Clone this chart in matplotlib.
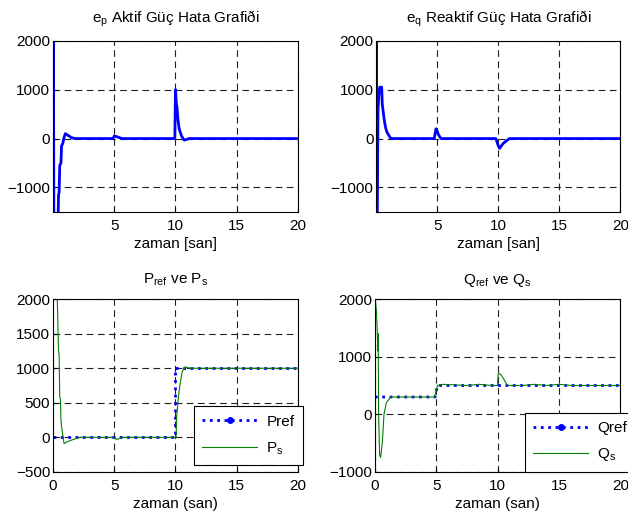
import matplotlib
matplotlib.use('Agg')
from matplotlib import pyplot as plt
from matplotlib.lines import Line2D

plt.rcParams['font.family'] = ['Liberation Sans', 'DejaVu Sans']
plt.rcParams['mathtext.default'] = 'regular'
plt.rcParams['font.size'] = 11

# e_p aktif guc hatasi
t_ep = [0, 0.03, 0.08, 0.40, 0.42, 0.45, 0.50, 0.55, 0.65, 0.70, 0.80, 0.88, 1.0, 1.2, 1.5, 1.8,
        4.9, 5.0, 5.2, 5.5, 5.7, 9.95, 10.0, 10.08, 10.12, 10.2, 10.3, 10.5, 10.7, 10.9, 11.1, 20]
ep = [0, 3000, -3000, -3000, -1600, -1150, -1100, -550, -500, -150, -100, 0, 100, 70, 20, 0,
      0, 50, 40, 10, 0, 0, 1000, 700, 650, 400, 200, 50, -30, -20, 0, 0]

# e_q reaktif guc hatasi
t_eq = [0, 0.02, 0.05, 0.10, 0.15, 0.25, 0.30, 0.45, 0.50, 0.55, 0.65, 0.75, 0.85, 0.95, 1.2,
        4.75, 4.9, 5.0, 5.1, 5.3, 9.8, 10.0, 10.1, 10.4, 10.9, 20]
eq = [0, 3000, -2500, -1100, 600, 1000, 1050, 1050, 700, 600, 400, 250, 150, 100, 0,
      0, 200, 150, 80, 0, 0, -150, -200, -100, 0, 0]

# P_ref ve P_s
t_pref = [0, 10, 10, 20]
pref = [0, 0, 1000, 1000]
t_ps = [0, 0.02, 0.35, 0.45, 0.50, 0.55, 0.60, 0.65, 0.70, 0.90, 1.1, 1.5, 2.2,
        4.9, 5.2, 5.7, 10.05, 10.1, 10.25, 10.4, 10.55, 10.8, 11.2, 20]
ps = [-500, 2500, 2000, 1250, 1200, 600, 550, 250, 150, -90, -70, -40, 0,
      0, -30, 0, 0, 300, 600, 800, 950, 1020, 1000, 1000]

# Q_ref ve Q_s
t_qref = [0, 4.9, 5.1, 20]
qref = [300, 300, 500, 500]
t_qs = [0, 0.03, 0.12, 0.2, 0.24, 0.27, 0.30, 0.38, 0.46, 0.6, 0.74, 0.93, 1.28,
        4.85, 5.1, 5.5, 6.5, 7.5, 8.5, 9.5, 9.98, 10.05, 10.3, 10.8, 12, 13, 14, 15, 16, 20]
qs = [-1000, 2000, 1800, 1400, 1100, 1400, 0, -700, -750, -500, 0, 200, 300,
      300, 500, 520, 510, 500, 520, 500, 500, 720, 680, 500, 500, 520, 500, 520, 500, 500]

fig = plt.figure(figsize=(6.28, 5.22), dpi=100)
ax1 = fig.add_axes([0.0844, 0.594, 0.390, 0.328])
ax2 = fig.add_axes([0.599, 0.594, 0.389, 0.328])
ax3 = fig.add_axes([0.0844, 0.096, 0.390, 0.331])
ax4 = fig.add_axes([0.597, 0.096, 0.391, 0.331])

ax1.plot(t_ep, ep, color='#0000ff', lw=2)
ax1.set_title('e$_p$ Aktif Güç Hata Grafiði', fontsize=11, pad=13)
ax1.set_xlabel('zaman [san]', labelpad=3)
ax1.set_ylim(-1500, 2000)
ax1.set_yticks([-1000, 0, 1000, 2000])

ax2.plot(t_eq, eq, color='#0000ff', lw=2)
ax2.set_title('e$_q$ Reaktif Güç Hata Grafiði', fontsize=11, pad=13)
ax2.set_xlabel('zaman [san]', labelpad=3)
ax2.set_ylim(-1500, 2000)
ax2.set_yticks([-1000, 0, 1000, 2000])

for ax in (ax1, ax2):
    ax.set_xlim(0, 20)
    ax.set_xticks([5, 10, 15, 20])

ax3.plot(t_pref, pref, color='#0000ff', lw=2, ls=':')
ax3.plot(t_ps, ps, color='#008000', lw=0.8)
ax3.set_title('P$_{ref}$ ve P$_s$', fontsize=11, pad=11)
ax3.set_xlabel('zaman (san)', labelpad=3)
ax3.set_ylim(-500, 2000)
ax3.set_yticks([-500, 0, 500, 1000, 1500, 2000])

ax4.plot(t_qref, qref, color='#0000ff', lw=2, ls=':')
ax4.plot(t_qs, qs, color='#008000', lw=0.8)
ax4.set_title('Q$_{ref}$ ve Q$_s$', fontsize=11, pad=11)
ax4.set_xlabel('zaman (san)', labelpad=3)
ax4.set_ylim(-1000, 2000)
ax4.set_yticks([-1000, 0, 1000, 2000])

for ax in (ax3, ax4):
    ax.set_xlim(0, 20)
    ax.set_xticks([0, 5, 10, 15, 20])

for ax in (ax1, ax2, ax3, ax4):
    ax.grid(True, color='#202020', ls=(0, (6, 4)), lw=0.8)
    ax.tick_params(direction='in', length=3, labelsize=11)
    ax.tick_params(axis='x', pad=5)
    ax.tick_params(axis='y', pad=2)
    for s in ax.spines.values():
        s.set_linewidth(0.8)

def legend_handles(ref_name, s_name):
    h1 = Line2D([], [], color='#0000ff', lw=2, ls=':', marker='o', ms=4)
    h2 = Line2D([], [], color='#008000', lw=0.8)
    return [h1, h2], [ref_name, s_name]

h, l = legend_handles('Pref', 'P$_s$')
leg3 = ax3.legend(h, l, loc='lower right', bbox_to_anchor=(1.02, 0.04), borderaxespad=0,
                  fancybox=False, edgecolor='black', framealpha=1, handlelength=3.6,
                  fontsize=11, borderpad=0.55, labelspacing=0.75, handletextpad=0.6)
leg3.get_frame().set_linewidth(0.8)

h, l = legend_handles('Qref', 'Q$_s$')
leg4 = ax4.legend(h, l, loc='lower left', bbox_to_anchor=(0.61, 0.0), borderaxespad=0,
                  fancybox=False, edgecolor='black', framealpha=1, handlelength=3.6,
                  fontsize=11, borderpad=0.55, labelspacing=0.75, handletextpad=0.6)
leg4.get_frame().set_linewidth(0.8)

fig.savefig('out.png', dpi=100)
